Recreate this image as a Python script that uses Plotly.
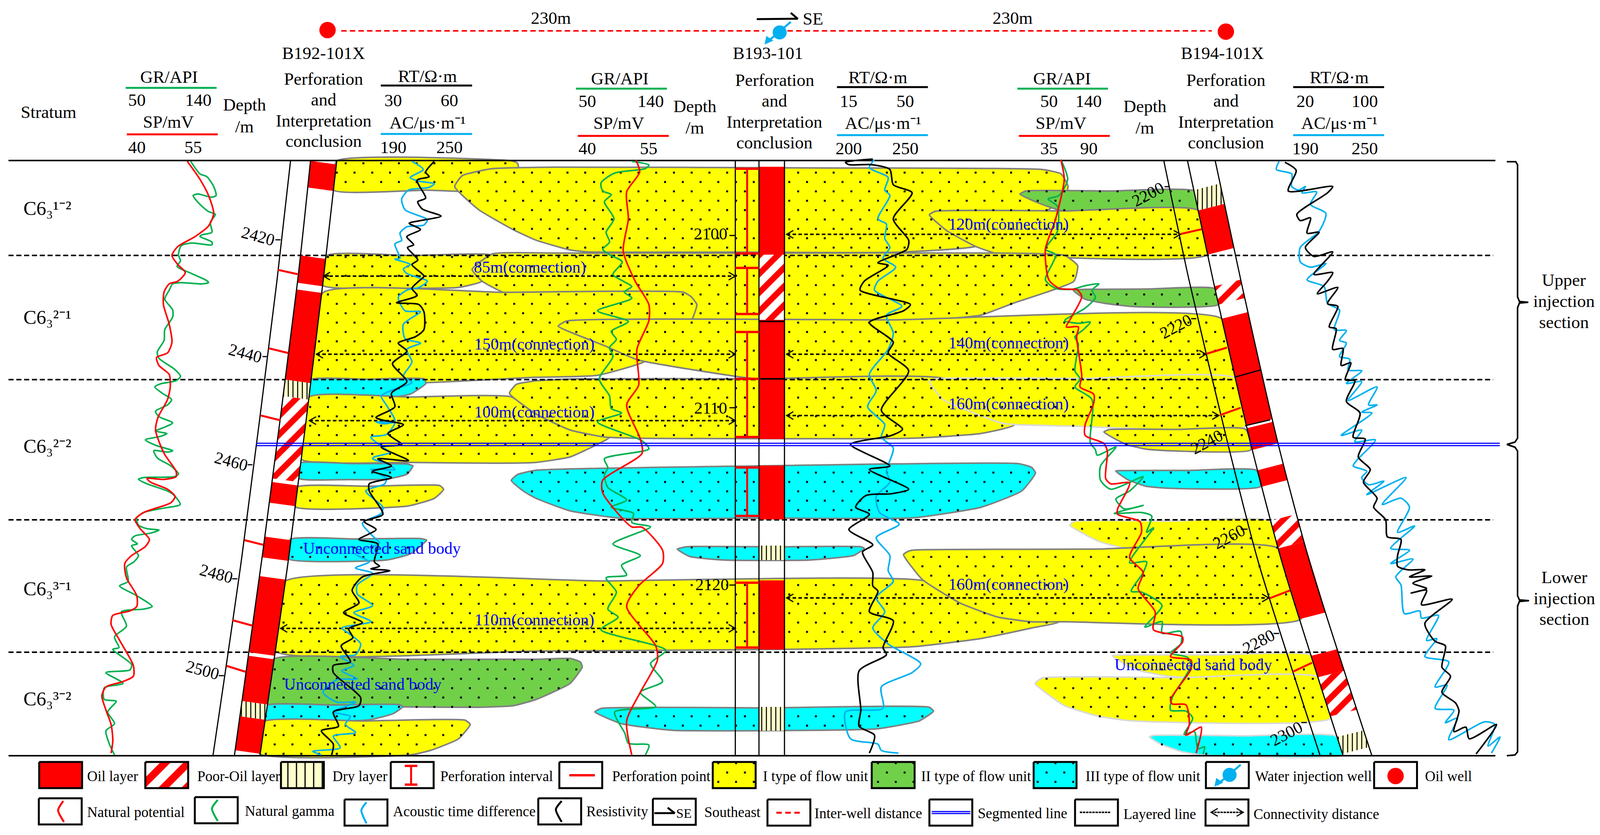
import numpy as np
import plotly.graph_objects as go

FONT = "Liberation Serif"
RED = "#FF0000"
GREEN = "#00B050"
SKY = "#00B0F0"
BLACK = "#000000"
BLUE = "#0000FF"
YELLOW = "#FFFF00"
CYAN = "#00FFFF"
LEAF = "#70D048"
GRAY = "#808080"
PALE = "#D9D9D9"

# crops the curves were read from: left, top, width, height
CROPS = {
    1: (0, 0, 1450, 720), 2: (1450, 0, 1450, 720), 3: (2880, 0, 1448, 720),
    4: (0, 720, 1450, 720), 5: (1450, 720, 1450, 720), 6: (2880, 720, 1448, 720),
    7: (0, 1420, 1450, 718), 8: (1450, 1420, 1450, 718), 9: (2880, 1420, 1448, 718),
}

def rd(crop, pts):
    x0, y0, w, h = CROPS[crop]
    return [(x0 + a * w / 1568, y0 + b * h / 1568) for a, b in pts]

# ---- log curves, well B192-101X
gr1 = rd(1, [(558,900),(585,970),(605,985),(625,1040),(632,1090),(618,1100),(580,1082),(565,1090),(585,1140),(610,1180),(630,1195),(615,1240),(620,1295),(590,1310),(585,1318),(620,1350),(620,1365),(560,1355),(530,1370),(522,1420),(528,1455),(518,1485),(560,1525),(605,1565)]) \
    + rd(4, [(610,8),(590,15),(530,8),(505,15),(495,50),(482,100),(505,160),(505,200),(482,270),(480,330),(460,395),(465,430),(510,490),(528,530),(515,555),(470,572),(453,590),(475,625),(502,660),(490,690),(455,725),(465,755),(505,790),(480,815),(455,835),(488,850),(470,865),(425,885),(455,915),(505,945),(490,953),(450,945),(460,985),(500,1030),(522,1075),(510,1090),(420,1095),(405,1105),(430,1130),(490,1170),(510,1195),(527,1245),(480,1265),(420,1290),(400,1320),(405,1360),(430,1380),(465,1388),(440,1405),(395,1420),(385,1440),(402,1465),(385,1475),(405,1530)]) \
    + rd(7, [(392,40),(370,70),(375,150),(350,175),(400,230),(445,290),(420,305),(355,320),(370,400),(335,460),(348,520),(330,530),(385,615),(380,645),(310,660),(360,720),(305,745),(305,810),(340,820),(315,880),(335,945),(310,985),(320,1060),(335,1120)])
sp1 = rd(1, [(548,900),(585,1000),(610,1090),(625,1190),(610,1260),(570,1320),(520,1375),(503,1425),(520,1475),(542,1520),(520,1568)]) \
    + rd(4, [(495,15),(480,60),(478,130),(495,240),(503,340),(490,400),(458,425),(465,470),(495,520),(498,590),(490,660),(462,760),(455,830),(480,960),(515,1060),(515,1090),(480,1105),(430,1100),(440,1120),(490,1160),(512,1200),(500,1235),(420,1290),(395,1330),(410,1380),(437,1440),(425,1480),(385,1530)]) \
    + rd(7, [(365,50),(370,130),(400,230),(400,290),(380,315),(330,340),(325,390),(350,480),(390,620),(390,680),(360,710),(310,740),(298,790),(310,870),(325,950),(330,1040),(325,1110)])
ac1 = rd(1, [(1205,900),(1238,945),(1200,990),(1225,1010),(1270,1025),(1255,1045),(1195,1060),(1175,1110),(1185,1170),(1250,1225),(1240,1255),(1190,1265),(1170,1300),(1175,1340),(1155,1360),(1170,1440),(1155,1445),(1200,1475),(1180,1500),(1190,1525),(1250,1568)]) \
    + rd(4, [(1225,35),(1190,50),(1165,90),(1185,165),(1230,170),(1180,240),(1185,320),(1230,345),(1190,380),(1205,450),(1180,530),(1205,565),(1150,605),(1115,640),(1130,690),(1155,780),(1100,785),(1125,795),(1155,790),(1130,855),(1085,870),(1115,920),(1140,955),(1095,980),(1090,990),(1135,1020),(1155,1050),(1085,1050),(1130,1100),(1125,1130),(1070,1170),(1120,1260),(1115,1295),(1060,1350),(1095,1430),(1110,1460),(1040,1520)]) \
    + rd(7, [(1080,40),(1040,75),(1090,105),(1045,170),(1045,220),(1090,285),(1035,325),(1085,375),(1000,410),(1020,440),(1055,500),(1040,560),(995,570),(1035,620),(1000,650),(1045,695),(985,700),(945,770),(985,825),(1040,825),(975,880),(1025,905),(1010,950),(1040,995),(975,1015),(995,1080),(915,1100),(940,1120)])
rt1 = rd(1, [(1270,900),(1245,960),(1255,985),(1220,1005),(1245,1105),(1222,1125),(1235,1165),(1290,1205),(1230,1230),(1197,1245),(1230,1280),(1190,1320),(1210,1365),(1192,1380),(1222,1450),(1205,1475),(1240,1540),(1225,1568)]) \
    + rd(4, [(1205,40),(1220,80),(1160,120),(1225,130),(1240,170),(1240,270),(1215,310),(1165,345),(1190,390),(1148,460),(1190,560),(1145,625),(1155,700),(1100,760),(1120,775),(1180,800),(1135,850),(1175,910),(1115,925),(1195,1000),(1105,990),(1145,1030),(1090,1060),(1145,1095),(1080,1130),(1080,1170),(1120,1300),(1065,1340),(1100,1385),(1050,1440),(1105,1465)]) \
    + rd(7, [(1095,40),(1110,65),(1085,80),(1140,90),(1060,125),(1030,200),(1050,270),(1005,325),(1060,380),(1020,415),(1032,465),(998,510),(1025,600),(975,620),(975,660),(1055,800),(1050,845),(975,880),(990,960),(940,985),(975,1060),(970,1120)])

# ---- log curves, well B193-101
gr2 = rd(2, [(280,900),(330,920),(320,940),(230,965),(190,1020),(195,1065),(220,1085),(200,1125),(228,1220),(205,1295),(215,1350),(195,1390),(215,1420),(252,1460),(225,1530),(255,1568)]) \
    + rd(5, [(280,30),(258,60),(280,95),(180,165),(270,225),(220,280),(235,325),(215,370),(225,420),(185,545),(215,640),(220,710),(250,735),(180,785),(310,890),(330,935),(200,990),(210,1040),(200,1080),(210,1150),(265,1220),(220,1260),(285,1295),(280,1345),(335,1370),(225,1465),(305,1530)]) \
    + rd(8, [(250,60),(265,115),(205,130),(235,210),(210,305),(240,350),(190,420),(380,535),(335,610),(370,710),(305,770),(350,850),(230,880),(260,1000),(270,1055),(330,1065),(320,1120)])
sp2 = rd(2, [(292,892),(303,960),(265,1070),(270,1220),(255,1400),(290,1568)]) \
    + rd(5, [(330,130),(330,220),(295,380),(300,580),(265,690),(305,880),(310,960),(195,1110),(195,1180),(280,1370),(310,1372),(370,1500)]) \
    + rd(8, [(370,50),(300,175),(265,290),(350,510),(355,590),(305,770),(265,930),(280,1120)])
ac2 = rd(2, [(990,890),(975,935),(1030,990),(1020,1060),(1035,1090),(1000,1220),(1025,1250),(1020,1330),(1035,1380),(1015,1440),(1052,1490),(1000,1568)]) \
    + rd(5, [(990,50),(1070,140),(1025,190),(1045,290),(1030,380),(975,520),(995,610),(970,700),(1020,800),(1010,870),(1045,930),(1025,1060),(1035,1120),(995,1200),(1005,1290),(1062,1355),(995,1430),(1035,1530)]) \
    + rd(8, [(1030,90),(1045,150),(995,240),(1020,320),(985,410),(1030,500),(1125,610),(1100,660),(1010,740),(1015,860),(905,880),(920,1030),(1000,1060),(1010,1095),(1060,1110)])
rt2 = rd(2, [(985,887),(905,905),(915,918),(980,918),(1035,945),(1045,1030),(1100,1075),(1045,1220),(1090,1340),(1085,1390),(1000,1465),(1030,1480),(960,1568)]) \
    + rd(5, [(948,50),(1095,130),(1075,165),(975,230),(1045,340),(1030,400),(1090,500),(1010,720),(1072,825),(1040,860),(920,910),(1035,1030),(975,1050),(1090,1160),(1040,1185),(965,1195),(935,1260),(975,1300),(915,1385),(985,1470),(955,1510)]) \
    + rd(8, [(985,100),(985,175),(1000,205),(975,320),(1045,370),(1015,520),(1025,560),(945,650),(950,870),(945,960),(990,1010),(975,1110)])

# ---- log curves, well B194-101X
gr3 = rd(2, [(1535,890),(1555,1000),(1530,1090),(1498,1110),(1525,1150),(1525,1290),(1490,1390),(1520,1420),(1490,1560)]) \
    + rd(5, [(1520,40),(1568,45)]) \
    + rd(6, [(60,25),(100,15),(80,50),(90,90),(60,150),(0,220),(40,235),(75,228),(55,270),(30,310),(40,350),(30,500),(45,545),(30,590),(80,660),(75,900),(90,940),(95,970),(150,925),(105,1030),(105,1110),(135,1160),(230,1090),(190,1170),(150,1215),(175,1270),(230,1250),(145,1295),(225,1290),(255,1310),(240,1400),(260,1375)]) \
    + rd(9, [(190,45),(240,40),(230,100),(195,205),(225,210),(285,285),(235,405),(285,375),(285,440),(340,430),(340,500),(310,550),(360,575),(370,620),(315,800),(310,870),(355,875),(375,915),(350,1005),(380,990),(390,1085),(410,1075),(405,1115)])
sp3 = rd(2, [(1535,890),(1545,1000),(1520,1220),(1490,1390),(1500,1560)]) \
    + rd(5, [(1530,40),(1568,45)]) \
    + rd(6, [(35,45),(50,85),(20,200),(5,255),(40,255),(35,310),(50,530),(45,590),(85,630),(85,680),(60,800),(60,860),(115,905),(125,950),(120,1100),(135,1130),(190,1125),(155,1270),(155,1300),(220,1340),(225,1400),(190,1540)]) \
    + rd(9, [(230,100),(215,190),(265,320),(260,420),(345,460),(345,490),(310,570),(370,590),(370,640),(310,810),(315,835),(355,840),(365,950),(355,1010),(400,965),(385,1110)])
ac3 = rd(3, [(628,900),(620,945),(665,970),(665,1040),(685,1060),(705,1040),(695,1075),(738,1070),(720,1140),(765,1190),(745,1290),(690,1380),(690,1460),(720,1490),(765,1470),(710,1560)]) \
    + rd(6, [(760,30),(770,125),(805,160),(790,270),(825,275),(805,330),(825,345),(805,420),(835,435),(830,495),(870,500),(825,570),(870,560),(830,665),(915,590),(890,690),(915,690),(870,730),(900,735),(810,860),(870,830),(850,895),(910,885),(855,1000),(845,1030),(885,1060),(870,1095),(890,1135),(935,1115),(885,1190),(1000,1095),(930,1245),(985,1210),(1010,1260),(975,1400),(1025,1365),(955,1490),(1010,1500)]) \
    + rd(9, [(955,50),(1020,25),(970,125),(985,170),(995,330),(1040,315),(1045,355),(1095,340),(1060,480),(1090,470),(1055,570),(1125,600),(1085,740),(1120,730),(1085,860),(1140,870),(1115,940),(1150,915),(1125,1035),(1230,935),(1260,950),(1240,1070),(1275,1020),(1250,1110)])
rt3 = rd(3, [(645,905),(678,950),(655,1065),(785,1040),(770,1075),(680,1195),(690,1230),(720,1215),(710,1300),(745,1295),(705,1380),(730,1430),(785,1405),(730,1530),(785,1520),(770,1568)]) \
    + rd(6, [(740,70),(800,35),(770,125),(800,140),(775,255),(795,265),(785,380),(815,375),(810,470),(838,455),(822,550),(850,555),(825,670),(865,735),(845,870),(880,880),(860,980),(895,1050),(875,1120),(915,1210),(905,1260),(940,1330),(945,1425),(985,1440),(975,1530)]) \
    + rd(9, [(975,65),(1005,85),(1055,85),(1010,125),(1075,120),(1020,160),(1060,190),(1015,215),(1060,200),(1045,280),(1135,250),(1055,385),(1085,485),(1115,510),(1105,630),(1130,680),(1105,770),(1145,830),(1155,875),(1140,990),(1175,965),(1185,1030),(1265,950),(1205,1115)])

# ---- flow units, drawn back to front: colour, outline, outline points
sand_units = [
    (YELLOW, GRAY, [(911,412),(1385,412),(1400,418),(1403,432),(1403,487),(903,487)]),
    (YELLOW, GRAY, [(1230,478),(1250,450),(1330,432),(1500,428),(2200,430),(2819,434),(2870,445),(2889,477),(2880,505),(2800,560),(2639,631),(2420,646),(1589,645),(1542,640),(1450,615),(1388,588),(1295,537)]),
    (LEAF, GRAY, [(2759,497),(2775,489),(3231,489),(3242,539),(2870,539),(2810,520)]),
    (YELLOW, GRAY, [(2514,550),(2530,541),(3242,539),(3266,652),(2700,650),(2639,631),(2560,590)]),
    (YELLOW, GRAY, [(885,654),(1340,655),(1304,720),(1240,736),(1100,738),(874,731)]),
    (YELLOW, GRAY, [(1277,690),(1332,650),(1500,648),(2700,648),(2880,654),(2915,680),(2905,720),(2745,775),(2653,807),(2514,819),(1871,819),(1600,800),(1360,748),(1304,720)]),
    (LEAF, GRAY, [(2903,743),(2926,741),(3286,739),(3295,780),(3065,785),(2991,777),(2935,766)]),
    (YELLOW, GRAY, [(874,749),(1848,748),(1870,760),(1885,780),(1871,819),(1800,880),(1741,927),(1616,961),(1450,966),(843,970)]),
    (YELLOW, GRAY, [(1510,835),(1533,822),(3305,816),(3340,966),(2050,970),(1986,963),(1727,922),(1635,885)]),
    (CYAN, GRAY, [(841,972),(1147,970),(1152,982),(1110,1009),(1054,1018),(837,1018)]),
    (YELLOW, GRAY, [(835,1017),(1383,1016),(1450,1060),(1649,1119),(1607,1142),(1542,1170),(1450,1184),(1341,1186),(1110,1184),(813,1175)]),
    (YELLOW, GRAY, [(1378,1007),(1397,984),(1450,975),(1560,970),(2560,970),(2745,1087),(2653,1110),(2468,1122),(1727,1122),(1635,1119),(1542,1101),(1450,1060)]),
    (YELLOW, PALE, [(2514,977),(2530,970),(3342,968),(3370,1091),(2900,1091),(2745,1087),(2708,1083),(2551,1023)]),
    (YELLOW, GRAY, [(2986,1106),(3000,1100),(3369,1099),(3383,1152),(3157,1154),(3100,1150),(3046,1138)]),
    (CYAN, GRAY, [(808,1186),(1101,1188),(1117,1193),(1101,1214),(1045,1227),(943,1228),(808,1225)]),
    (CYAN, GRAY, [(3018,1206),(3030,1205),(3398,1204),(3409,1246),(3157,1250),(3100,1245),(3050,1228)]),
    (YELLOW, GRAY, [(803,1247),(1189,1243),(1200,1253),(1175,1276),(1101,1296),(800,1298)]),
    (CYAN, GRAY, [(1383,1230),(1400,1215),(1450,1204),(2051,1193),(2754,1187),(2791,1197),(2801,1211),(2764,1257),(2653,1299),(2468,1326),(1681,1327),(1542,1308),(1450,1276),(1415,1257)]),
    (CYAN, GRAY, [(1832,1406),(1857,1400),(2329,1400),(2338,1404),(2310,1422),(2190,1434),(1959,1434),(1866,1425)]),
    (CYAN, GRAY, [(785,1381),(1138,1379),(1154,1383),(1110,1418),(1045,1434),(780,1431)]),
    (YELLOW, PALE, [(2894,1345),(2905,1335),(3434,1333),(3460,1405),(3055,1406),(2972,1386)]),
    (YELLOW, GRAY, [(770,1489),(2495,1486),(2865,1592),(2791,1608),(2653,1635),(2468,1656),(2100,1663),(1450,1667),(745,1667)]),
    (YELLOW, GRAY, [(2444,1420),(2458,1411),(2477,1408),(3457,1404),(3520,1584),(2880,1592),(2791,1592),(2699,1580),(2597,1544),(2495,1484)]),
    (LEAF, GRAY, [(740,1688),(1450,1688),(1543,1686),(1570,1695),(1575,1708),(1542,1750),(1450,1791),(1388,1807),(1295,1811),(1092,1810),(726,1804)]),
    (CYAN, GRAY, [(722,1806),(1078,1804),(1090,1809),(1064,1827),(999,1843),(717,1845)]),
    (YELLOW, GRAY, [(712,1848),(1258,1844),(1272,1855),(1240,1892),(1166,1921),(1110,1933),(703,1930)]),
    (CYAN, GRAY, [(1609,1823),(1626,1814),(2514,1811),(2525,1821),(2486,1846),(2375,1866),(2283,1869),(1820,1870),(1681,1853)]),
    (YELLOW, PALE, [(3009,1679),(3028,1677),(3547,1677),(3563,1731),(3203,1734),(3157,1731),(3065,1713)]),
    (YELLOW, PALE, [(2800,1750),(2819,1736),(3568,1734),(3600,1839),(3065,1846),(2972,1834),(2880,1807)]),
    (CYAN, PALE, [(3109,1887),(3120,1883),(3614,1885),(3633,1933),(3249,1933),(3194,1924),(3139,1905)]),
]

# ---- well columns: (x, y) points of the three bounding lines
well1_lines = [
    [(786,411),(749,720),(655,1420),(576,1935)],
    [(840,411),(805,720),(710,1420),(634,1935)],
    [(911,411),(874,720),(782,1420),(703,1935)],
]
well2_x = [1989, 2053, 2122]
well3_lines = [
    [(3148,411),(3217,720),(3321,1135),(3404,1440),(3571,1935)],
    [(3212,411),(3282,720),(3383,1135),(3468,1440),(3633,1935)],
    [(3287,411),(3357,720),(3457,1135),(3543,1440),(3711,1935)],
]

# interpretation intervals: kind, top, bottom (y on the left edge of the column)
well1_layers = [("oil",412,480),("oil",654,724),("oil",741,972),("dry",972,1014),("poor",1014,1225),
                ("oil",1234,1287),("oil",1374,1427),("oil",1475,1670),("oil",1679,1795),("dry",1795,1834),("oil",1834,1921)]
well2_layers = [("oil",427,652),("poor",652,819),("oil",819,970),("oil",970,1124),("oil",1192,1330),
                ("dry",1397,1434),("oil",1486,1663),("dry",1810,1871)]
well3_layers = [("dry",487,539),("oil",539,652),("poor",733,780),("oil",816,966),("oil",966,1090),("oil",1096,1152),
                ("oil",1204,1246),("poor",1333,1404),("oil",1404,1585),("oil",1679,1734),("poor",1734,1834),("dry",1887,1930)]

perf_points = [
    [(752,691),(805,702)],[(728,892),(780,904)],[(706,1064),(758,1076)],[(661,1383),(712,1395)],[(629,1588),(683,1602)],[(613,1705),(664,1720)],
    [(3194,599),(3250,587)],[(3263,906),(3319,890)],[(3300,1063),(3356,1044)],[(3434,1532),(3489,1512)],[(3497,1720),(3549,1697)],
]
perf_intervals = [(432,649),(686,804),(850,970),(970,1119),(1197,1321),(1492,1658)]

layer_lines = [654, 972, 1331, 1670]
segment_lines = [1135, 1141]

# connectivity distances: y, left, right
connections = [(707,875,1989),(907,856,1989),(1077,837,1989),(1609,759,1989),
               (600,2128,3193),(907,2128,3262),(1064,2128,3297),(1531,2128,3432)]

blue_labels = [("85m(connection)",1433,684),("150m(connection)",1445,881),("100m(connection)",1445,1055),("110m(connection)",1445,1587),
               ("120m(connection)",2728,574),("140m(connection)",2728,878),("160m(connection)",2728,1034),("160m(connection)",2728,1496),
               ("Unconnected sand body",1033,1404),("Unconnected sand body",982,1752),("Unconnected sand body",3228,1702)]
strata = [("C6₃¹⁻²",128,533),("C6₃²⁻¹",128,812),("C6₃²⁻²",128,1142),("C6₃³⁻¹",128,1507),("C6₃³⁻²",128,1789)]
depth_labels = [("2420",698,604,15),("2440",664,904,15),("2460",626,1181,15),("2480",585,1468,15),("2500",548,1715,15),
                ("2100",1922,598,0),("2110",1922,1044,0),("2120",1926,1496,0),
                ("2200",3105,497,-28),("2220",3181,835,-28),("2240",3264,1131,-28),("2260",3324,1374,-28),("2280",3405,1642,-28),("2300",3479,1878,-28)]
depth_ticks = [(745,759,614),(710,722,913),(670,683,1190),(628,642,1482),(592,606,1730),
               (1973,1989,603),(1973,1989,1044),(1973,1989,1498),
               (3150,3164,478),(3222,3236,816),(3292,3306,1112),(3360,3375,1355),(3445,3460,1622),(3520,3535,1850)]
header_text = [
    ("Stratum",132,287),("B192-101X",875,136),("B193-101",2077,136),("B194-101X",3307,136),
    ("230m",1490,46),("230m",2739,46),("SE",2199,48),
    ("GR/API",458,197),("50",370,256),("140",537,256),("SP/mV",455,312),("40",370,377),("55",523,377),
    ("Depth",661,268),("/m",661,324),
    ("Perforation",875,202),("and",875,255),("Interpretation",875,309),("conclusion",875,361),
    ("RT/Ω·m",1156,195),("30",1064,257),("60",1216,257),("AC/μs·m⁻¹",1156,314),("190",1064,377),("250",1216,377),
    ("GR/API",1677,201),("50",1589,259),("140",1760,259),("SP/mV",1674,315),("40",1589,380),("55",1755,380),
    ("Depth",1880,272),("/m",1880,327),
    ("Perforation",2095,205),("and",2095,258),("Interpretation",2095,312),("conclusion",2095,365),
    ("RT/Ω·m",2375,198),("15",2296,259),("50",2449,259),("AC/μs·m⁻¹",2389,315),("200",2296,380),("250",2449,380),
    ("GR/API",2873,201),("50",2838,259),("140",2945,259),("SP/mV",2870,315),("35",2838,380),("90",2945,380),
    ("Depth",3097,272),("/m",3097,327),
    ("Perforation",3316,205),("and",3316,258),("Interpretation",3316,312),("conclusion",3316,365),
    ("RT/Ω·m",3623,198),("20",3531,259),("100",3692,259),("AC/μs·m⁻¹",3623,315),("190",3531,380),("250",3692,380),
    ("Upper",4230,717),("injection",4230,771),("section",4230,825),
    ("Lower",4231,1478),("injection",4231,1532),("section",4231,1585),
]
header_rules = [
    (340,586,225,GREEN),(343,589,344,RED),(1030,1277,219,BLACK),(1030,1277,343,SKY),
    (1558,1804,227,GREEN),(1563,1809,348,RED),(2264,2510,223,BLACK),(2264,2510,346,SKY),
    (2752,2997,227,GREEN),(2756,3002,348,RED),(3498,3744,223,BLACK),(3498,3744,346,SKY),
]

# legend
legend_row1 = [("Oil layer",234),("Poor-Oil layer",532),("Dry layer",897),("Perforation interval",1189),("Perforation point",1654),
               ("I type of flow unit",2062),("II type of flow unit",2489),("III type of flow unit",2934),("Water injection well",3393),("Oil well",3853)]
legend_row1_boxes = [106,393,760,1057,1513,1928,2358,2796,3262,3717]
legend_row2 = [("Natural potential",234,2079),("Natural gamma",660,2076),("Acoustic time difference",1061,2077),("Resistivity",1584,2077),
               ("Southeast",1903,2079),("Inter-well distance",2201,2082),("Segmented line",2643,2082),("Layered line",3037,2084),("Connectivity distance",3389,2084)]
legend_row2_boxes = [(105,2044),(527,2041),(932,2047),(1456,2044),(1766,2045),(2076,2047),(2514,2047),(2908,2047),(3261,2047)]
icon_sp = rd(7, [(185,1378),(170,1430),(187,1495)])
icon_gr = rd(7, [(637,1372),(620,1420),(637,1490)])
icon_ac = rd(7, [(1072,1385),(1057,1430),(1072,1503)])
icon_rt = rd(8, [(75,1378),(58,1425),(75,1495)])

fig = go.Figure()

def line(pts, color=BLACK, width=3, dash=None, smooth=False):
    xs = [p[0] for p in pts]
    ys = [p[1] for p in pts]
    ln = dict(color=color, width=width)
    if dash:
        ln["dash"] = dash
    if smooth:
        ln["shape"] = "spline"
        ln["smoothing"] = 0.7
    fig.add_trace(go.Scatter(x=xs, y=ys, mode="lines", line=ln, hoverinfo="skip", showlegend=False))

def area(pts, color, edge=None, width=3, smooth=False, pattern=None):
    if smooth:
        # close the spline in the middle of the longest side so no corner gets pinched
        n = len(pts)
        lens = [abs(pts[(i + 1) % n][0] - pts[i][0]) + abs(pts[(i + 1) % n][1] - pts[i][1]) for i in range(n)]
        k = int(np.argmax(lens))
        a, b = pts[k], pts[(k + 1) % n]
        mid = ((a[0] + b[0]) / 2, (a[1] + b[1]) / 2)
        pts = [mid] + pts[k + 1:] + pts[:k + 1]
    xs = [p[0] for p in pts] + [pts[0][0]]
    ys = [p[1] for p in pts] + [pts[0][1]]
    ln = dict(color=edge if edge else "rgba(0,0,0,0)", width=width if edge else 0)
    if smooth:
        ln["shape"] = "spline"
        ln["smoothing"] = 0.45
    tr = go.Scatter(x=xs, y=ys, mode="lines", fill="toself", fillcolor=color, line=ln, hoverinfo="skip", showlegend=False)
    if pattern:
        tr.fillpattern = pattern
    fig.add_trace(tr)

def inside(px, py, poly):
    poly = np.array(poly, dtype=float)
    x1, y1 = poly[:, 0], poly[:, 1]
    x2, y2 = np.roll(x1, -1), np.roll(y1, -1)
    hits = 0
    for a, b, c, d in zip(x1, y1, x2, y2):
        if (b > py) != (d > py) and px < a + (py - b) * (c - a) / (d - b):
            hits += 1
    return hits % 2 == 1

def dot_grid(x0, x1, y0, y1):
    # the stipple is one staggered sheet over the whole figure
    out = []
    k0 = int((y0 - 418) // 24)
    k1 = int((y1 - 418) // 24) + 1
    for k in range(k0, k1 + 1):
        y = 418 + 24 * k
        start = 935 if k % 2 == 0 else 959
        m0 = int((x0 - start) // 48)
        m1 = int((x1 - start) // 48) + 1
        for m in range(m0, m1 + 1):
            out.append((start + 48 * m, y))
    return out

def layer_style(kind, big=False):
    if kind == "oil":
        return RED, None
    if kind == "poor":
        return "#FFFFFF", dict(shape="/", fgcolor=RED, bgcolor="#FFFFFF", fgopacity=1, size=42 if big else 34, solidity=0.45)
    return "#FFFFCC", dict(shape="|", fgcolor=BLACK, bgcolor="#FFFFCC", fgopacity=1, size=22 if big else 12, solidity=0.14 if big else 0.22)

def col_x(ln, y):
    ys = [p[1] for p in ln]
    xs = [p[0] for p in ln]
    return float(np.interp(y, ys, xs))

def column_block(left, right, kind, top, bottom, slant):
    c, pat = layer_style(kind)
    pts = [(col_x(left, top), top), (col_x(right, top + slant), top + slant),
           (col_x(right, bottom + slant), bottom + slant), (col_x(left, bottom), bottom)]
    area(pts, c, pattern=pat)

def chevron(x, y, d):
    line([(x + d * 18, y - 10), (x, y), (x + d * 18, y + 10)], BLACK, 3)

# sand bodies and their stipple
for color, edge, pts in sand_units:
    area(pts, color, edge, 4, smooth=True)
dots = set()
for color, edge, pts in sand_units:
    xa = [p[0] for p in pts]
    ya = [p[1] for p in pts]
    for gx, gy in dot_grid(min(xa), max(xa), min(ya), max(ya)):
        if inside(gx, gy, pts):
            dots.add((gx, gy))
dots = sorted(dots)
fig.add_trace(go.Scatter(x=[d[0] for d in dots], y=[d[1] for d in dots], mode="markers",
                         marker=dict(symbol="square", size=5, color=BLACK, line=dict(width=0)),
                         hoverinfo="skip", showlegend=False))

# layered lines go under the well columns
for y in layer_lines:
    line([(23, y), (4039, y)], BLACK, 4, dash="13px,7px")

# well columns
for kind, top, bottom in well1_layers:
    column_block(well1_lines[1], well1_lines[2], kind, top, bottom, 9)
for kind, top, bottom in well3_layers:
    column_block(well3_lines[1], well3_lines[2], kind, top, bottom, -17)
for kind, top, bottom in well2_layers:
    c, pat = layer_style(kind)
    area([(well2_x[1], top), (well2_x[2], top), (well2_x[2], bottom), (well2_x[1], bottom)], c, pattern=pat)

# white joint and black joints inside the oil layers
line([(well2_x[1], 823), (well2_x[2], 823)], BLACK, 4)
line([(well2_x[1], 970), (well2_x[2], 970)], BLACK, 4)
line([(3339, 966), (3411, 947)], BLACK, 3)
line([(3368, 1090), (3436, 1075)], BLACK, 3)
line([(3370, 1095), (3439, 1079)], "#FFFFFF", 4)

for ln in well1_lines + well3_lines:
    line(ln, BLACK, 3, smooth=True)
for x in well2_x:
    line([(x, 411), (x, 1935)], BLACK, 3)

for seg in perf_points:
    line(seg, RED, 5)
for top, bottom in perf_intervals:
    line([(2021, top), (2021, bottom)], RED, 5)
    line([(1989, top), (2053, top)], RED, 6)
    line([(1989, bottom), (2053, bottom)], RED, 6)

# connectivity arrows
for y, xa, xb in connections:
    line([(xa, y), (xb, y)], BLACK, 4, dash="9px,6px")
    chevron(xa, y, 1)
    chevron(xb, y, -1)

# top and bottom frame
line([(23, 411), (4045, 411)], BLACK, 4)
line([(23, 1935), (4045, 1935)], BLACK, 4)

# log curves
for curve, color, w in [(gr1, GREEN, 4), (ac1, SKY, 4), (sp1, RED, 4), (rt1, BLACK, 4),
                        (gr2, GREEN, 4), (ac2, SKY, 4), (sp2, RED, 4), (rt2, BLACK, 4),
                        (gr3, GREEN, 4), (ac3, SKY, 4), (sp3, RED, 4), (rt3, BLACK, 4)]:
    line(curve, color, w, smooth=True)

for y in segment_lines:
    line([(694, y), (4057, y)], BLUE, 3)

# braces
line([(4076, 414), (4100, 414), (4105, 422), (4105, 760), (4110, 772), (4134, 774), (4110, 776), (4105, 788), (4105, 1122), (4098, 1132), (4076, 1138)], BLACK, 4)
line([(4076, 1138), (4098, 1145), (4105, 1155), (4105, 1525), (4110, 1536), (4136, 1538), (4110, 1540), (4105, 1552), (4105, 1925), (4098, 1933), (4076, 1935)], BLACK, 4)

# well map
line([(923, 79), (2068, 79)], RED, 4, dash="14px,8px")
line([(2130, 79), (3278, 79)], RED, 4, dash="14px,8px")
for x, y in [(886, 77), (3316, 81)]:
    fig.add_trace(go.Scatter(x=[x], y=[y], mode="markers", marker=dict(size=42, color=RED, line=dict(width=0)), hoverinfo="skip", showlegend=False))
fig.add_trace(go.Scatter(x=[2109], y=[83], mode="markers", marker=dict(size=36, color=SKY, line=dict(width=0)), hoverinfo="skip", showlegend=False))
line([(2139, 56), (2075, 108)], SKY, 5)
area([(2068, 114), (2073, 92), (2092, 104)], SKY)
line([(2047, 49), (2158, 48), (2139, 33)], BLACK, 5)

for a, b, y, color in header_rules:
    line([(a, y), (b, y)], color, 5)

# legend boxes and swatches
for i, bx in enumerate(legend_row1_boxes):
    x0, x1, y0, y1 = bx, bx + 116, 1951, 2018
    if i == 0:
        area([(x0, y0), (x1, y0), (x1, y1), (x0, y1)], RED)
    elif i == 1:
        c, pat = layer_style("poor", True)
        area([(x0, y0), (x1, y0), (x1, y1), (x0, y1)], c, pattern=pat)
    elif i == 2:
        c, pat = layer_style("dry", True)
        area([(x0, y0), (x1, y0), (x1, y1), (x0, y1)], c, pattern=pat)
    elif i in (5, 6, 7):
        area([(x0, y0), (x1, y0), (x1, y1), (x0, y1)], [YELLOW, LEAF, CYAN][i - 5])
        g = [d for d in dot_grid(x0, x1, y0, y1) if x0 < d[0] < x1 and y0 < d[1] < y1]
        fig.add_trace(go.Scatter(x=[d[0] for d in g], y=[d[1] for d in g], mode="markers",
                                 marker=dict(symbol="square", size=5, color=BLACK, line=dict(width=0)),
                                 hoverinfo="skip", showlegend=False))
    line([(x0, y0), (x1, y0), (x1, y1), (x0, y1), (x0, y0)], BLACK, 5)

for bx, by in legend_row2_boxes:
    line([(bx, by), (bx + 116, by), (bx + 116, by + 67), (bx, by + 67), (bx, by)], BLACK, 5)

# perforation icons
line([(1112, 1961), (1112, 2009)], RED, 5)
line([(1095, 1961), (1129, 1961)], RED, 6)
line([(1095, 2009), (1129, 2009)], RED, 6)
line([(1540, 1985), (1609, 1985)], RED, 6)
# well icons
fig.add_trace(go.Scatter(x=[3775], y=[1987], mode="markers", marker=dict(size=42, color=RED, line=dict(width=0)), hoverinfo="skip", showlegend=False))
fig.add_trace(go.Scatter(x=[3326], y=[1984], mode="markers", marker=dict(size=36, color=SKY, line=dict(width=0)), hoverinfo="skip", showlegend=False))
line([(3356, 1958), (3292, 2010)], SKY, 5)
area([(3285, 2014), (3290, 1992), (3309, 2004)], SKY)
# log icons
line(icon_sp, RED, 5, smooth=True)
line(icon_gr, GREEN, 5, smooth=True)
line(icon_ac, SKY, 5, smooth=True)
line(icon_rt, BLACK, 5, smooth=True)
line([(1770, 2082), (1825, 2082), (1806, 2068)], BLACK, 5)
line([(2100, 2081), (2167, 2081)], RED, 5, dash="14px,9px")
line([(2520, 2078), (2625, 2078)], BLUE, 3)
line([(2520, 2083), (2625, 2083)], BLUE, 3)
line([(2921, 2080), (3003, 2080)], BLACK, 4, dash="6px,2px")
line([(3276, 2080), (3363, 2080)], BLACK, 4, dash="6px,2px")
chevron(3276, 2080, 1)
chevron(3363, 2080, -1)

# text
def add_text(x, y, text, size=45, color=BLACK, angle=0, anchor="center"):
    fig.add_annotation(x=x, y=y, text=text, showarrow=False, xanchor=anchor, yanchor="middle", textangle=angle,
                       font=dict(family=FONT, size=size, color=color))

for t, x, y in header_text:
    add_text(x, y, t, 45)
for t, x, y in strata:
    add_text(x, y, t, 50)
for t, x, y, ang in depth_labels:
    add_text(x, y, t, 43, angle=ang)
for xa, xb, y in depth_ticks:
    line([(xa, y), (xb, y)], BLACK, 3)
for t, x, y in blue_labels:
    add_text(x, y, t, 42, BLUE)
for t, x in legend_row1:
    add_text(x, 1987, t, 37, anchor="left")
for t, x, y in legend_row2:
    add_text(x, y, t, 37, anchor="left")
add_text(1850, 2082, "SE", 34)

fig.update_xaxes(range=[0, 4328], visible=False, fixedrange=True)
fig.update_yaxes(range=[2138, 0], visible=False, fixedrange=True)
fig.update_layout(autosize=True, margin=dict(l=0, r=0, t=0, b=0),
                  paper_bgcolor="white", plot_bgcolor="white", showlegend=False)

fig.write_html("out.html", default_width="100vw", default_height="100vh", config={"displayModeBar": False},
               post_script="document.body.style.margin='0';document.body.style.overflow='hidden';"
                           "Plotly.Plots.resize(document.getElementById('{plot_id}'));")
